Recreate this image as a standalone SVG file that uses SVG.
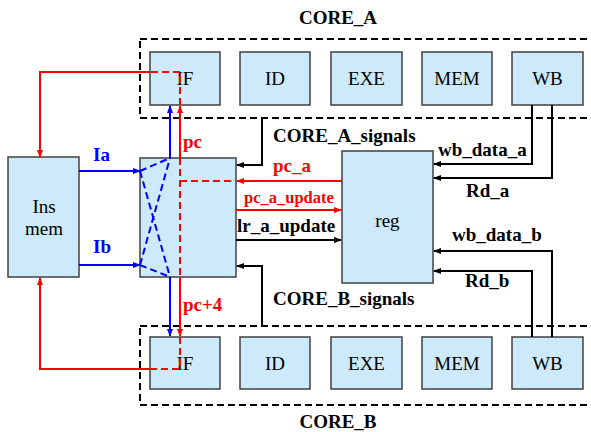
<svg xmlns="http://www.w3.org/2000/svg" width="591" height="432" viewBox="0 0 591 432">
<style>
.box{fill:#cdeafb;stroke:#404040;stroke-width:1.5}
.core{fill:none;stroke:#000;stroke-width:2;stroke-dasharray:7 4}
.t{font-family:"Liberation Serif",serif;font-size:19px;fill:#000}
.b{font-family:"Liberation Serif",serif;font-size:19px;font-weight:bold}
.blk{stroke:#000;stroke-width:2;fill:none}
.red{stroke:#ff0000;stroke-width:2;fill:none}
.blu{stroke:#0000ff;stroke-width:2;fill:none}
.dash{stroke-dasharray:7 4}
</style>
<defs>
<marker id="ak" markerWidth="8" markerHeight="6" refX="7" refY="3" orient="auto" markerUnits="userSpaceOnUse"><path d="M0,0 L8,3 L0,6 Z" fill="#000"/></marker>
<marker id="ar" markerWidth="8" markerHeight="6" refX="7" refY="3" orient="auto" markerUnits="userSpaceOnUse"><path d="M0,0 L8,3 L0,6 Z" fill="#ff0000"/></marker>
<marker id="ab" markerWidth="8" markerHeight="6" refX="7" refY="3" orient="auto" markerUnits="userSpaceOnUse"><path d="M0,0 L8,3 L0,6 Z" fill="#0000ff"/></marker>
</defs>

<g id="core_a">
<rect class="core" x="140" y="39" width="470" height="79"/>
<text class="b" x="338" y="24" text-anchor="middle">CORE_A</text>
</g>
<g id="core_b">
<rect class="core" x="140" y="326" width="470" height="79"/>
<text class="b" x="338" y="428" text-anchor="middle">CORE_B</text>
</g>

<g id="a_if"><rect class="box" x="150" y="52" width="70" height="53"/><text class="t" x="185" y="85" text-anchor="middle">IF</text></g>
<g id="a_id"><rect class="box" x="240" y="52" width="70" height="53"/><text class="t" x="275" y="85" text-anchor="middle">ID</text></g>
<g id="a_exe"><rect class="box" x="331" y="52" width="71" height="53"/><text class="t" x="366.5" y="85" text-anchor="middle">EXE</text></g>
<g id="a_mem"><rect class="box" x="422" y="52" width="70" height="53"/><text class="t" x="457" y="85" text-anchor="middle">MEM</text></g>
<g id="a_wb"><rect class="box" x="512" y="52" width="71" height="53"/><text class="t" x="547.5" y="85" text-anchor="middle">WB</text></g>

<g id="b_if"><rect class="box" x="150" y="337" width="70" height="52"/><text class="t" x="185" y="370" text-anchor="middle">IF</text></g>
<g id="b_id"><rect class="box" x="240" y="337" width="70" height="52"/><text class="t" x="275" y="370" text-anchor="middle">ID</text></g>
<g id="b_exe"><rect class="box" x="331" y="337" width="71" height="52"/><text class="t" x="366.5" y="370" text-anchor="middle">EXE</text></g>
<g id="b_mem"><rect class="box" x="422" y="337" width="70" height="52"/><text class="t" x="457" y="370" text-anchor="middle">MEM</text></g>
<g id="b_wb"><rect class="box" x="512" y="337" width="71" height="52"/><text class="t" x="547.5" y="370" text-anchor="middle">WB</text></g>

<g id="insmem"><rect class="box" x="8" y="157" width="71" height="120"/><text class="t" x="44" y="213" text-anchor="middle">Ins</text><text class="t" x="44" y="235" text-anchor="middle">mem</text></g>
<g id="switch"><rect class="box" x="140" y="158" width="96" height="119"/></g>
<g id="reg"><rect class="box" x="342" y="151" width="91" height="132"/><text class="t" x="387.5" y="227" text-anchor="middle">reg</text></g>

<g id="connectors">
<!-- blue -->
<line class="blu" x1="79" y1="171" x2="140" y2="171" marker-end="url(#ab)"/>
<line class="blu" x1="79" y1="265" x2="140" y2="265" marker-end="url(#ab)"/>
<line class="blu" x1="170" y1="158" x2="170" y2="106" marker-end="url(#ab)"/>
<line class="blu" x1="170" y1="277" x2="170" y2="336" marker-end="url(#ab)"/>
<path class="blu dash" d="M140,171 L170,158 M140,171 L170,277 M140,265 L170,158 M140,265 L170,277"/>
<!-- red -->
<path class="red" d="M150,72 L40,72 L40,157" marker-end="url(#ar)"/>
<path class="red dash" d="M180,105 L180,72 L150,72"/>
<line class="red" x1="180" y1="158" x2="180" y2="106" marker-end="url(#ar)"/>
<path class="red dash" d="M180,158 L180,277 M180,181 L236,181"/>
<line class="red" x1="180" y1="277" x2="180" y2="336" marker-end="url(#ar)"/>
<path class="red dash" d="M180,337 L180,369 L150,369"/>
<path class="red" d="M150,369 L40,369 L40,278" marker-end="url(#ar)"/>
<line class="red" x1="342" y1="181" x2="237" y2="181" marker-end="url(#ar)"/>
<line class="red" x1="236" y1="210" x2="341" y2="210" marker-end="url(#ar)"/>
<!-- black -->
<line class="blk" x1="236" y1="240" x2="341" y2="240" marker-end="url(#ak)"/>
<path class="blk" d="M262,118 L262,165 L237,165" marker-end="url(#ak)"/>
<path class="blk" d="M262,326 L262,266 L237,266" marker-end="url(#ak)"/>
<path class="blk" d="M532,105 L532,164 L434,164" marker-end="url(#ak)"/>
<path class="blk" d="M552,105 L552,178 L434,178" marker-end="url(#ak)"/>
<path class="blk" d="M552,337 L552,251 L434,251" marker-end="url(#ak)"/>
<path class="blk" d="M532,337 L532,271 L434,271" marker-end="url(#ak)"/>
</g>

<g id="labels">
<text class="b" x="93" y="161" fill="#0000ff">Ia</text>
<text class="b" x="93" y="253" fill="#0000ff">Ib</text>
<text class="b" x="183" y="148" fill="#ff0000">pc</text>
<text class="b" x="183" y="311" fill="#ff0000">pc+4</text>
<text class="b" x="273" y="142" fill="#000">CORE_A_signals</text>
<text class="b" x="273" y="305" fill="#000">CORE_B_signals</text>
<text class="b" x="273" y="172" fill="#ff0000">pc_a</text>
<text class="b" x="244" y="203" fill="#ff0000" style="font-size:16.5px">pc_a_update</text>
<text class="b" x="237" y="232" fill="#000">lr_a_update</text>
<text class="b" x="438" y="156" fill="#000">wb_data_a</text>
<text class="b" x="466" y="197" fill="#000">Rd_a</text>
<text class="b" x="452" y="241" fill="#000">wb_data_b</text>
<text class="b" x="465" y="287" fill="#000">Rd_b</text>
</g>
</svg>
